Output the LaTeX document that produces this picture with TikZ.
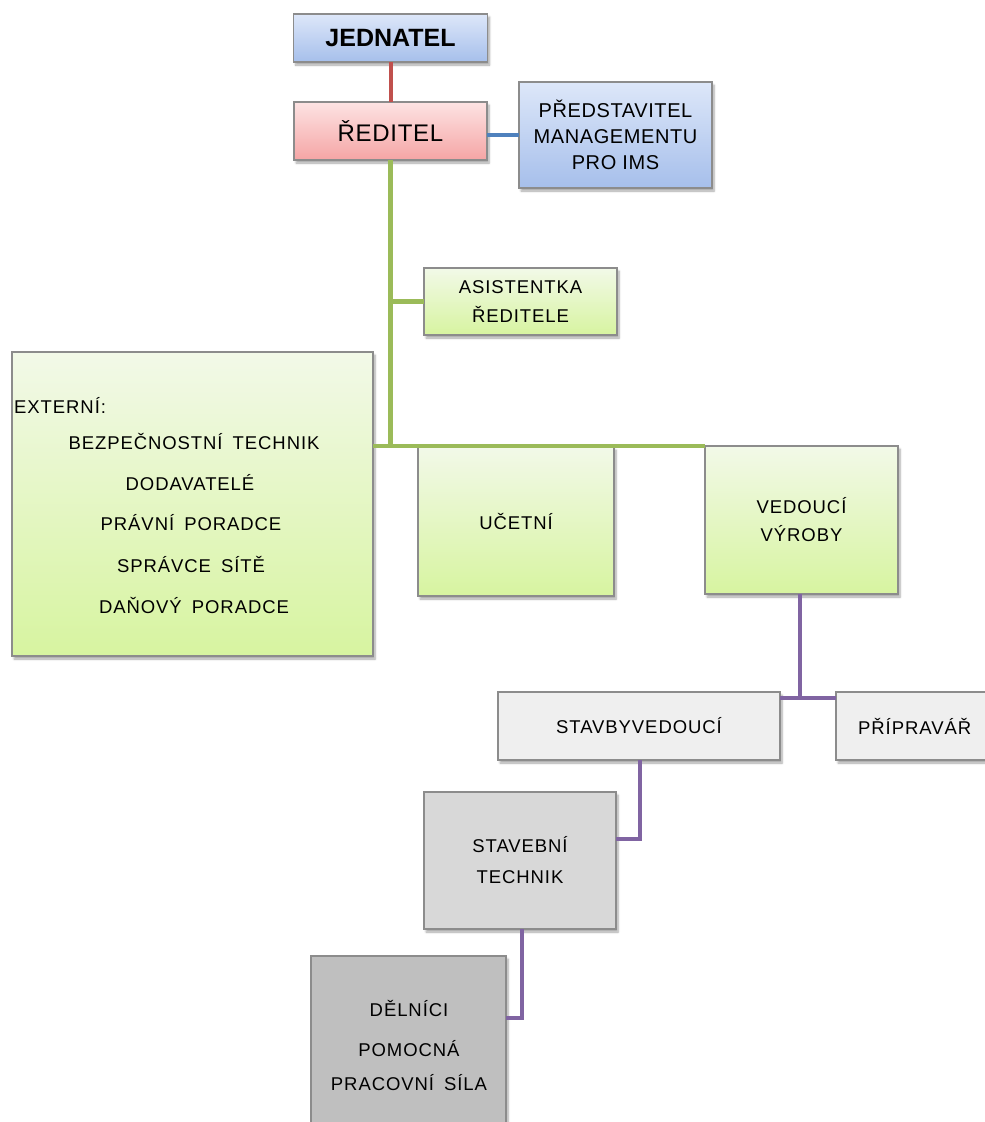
\documentclass[tikz,border=0pt]{standalone}
\usepackage{fontspec}
\setmainfont{Liberation Sans}
\newfontfamily\spaced[LetterSpace=5]{Liberation Sans}
\newfontfamily\spacedtight[LetterSpace=3]{Liberation Sans}
\usetikzlibrary{shadows.blur}

\definecolor{boxline}{HTML}{8C8C8C}
\definecolor{blueT}{HTML}{DDE7F9}
\definecolor{blueB}{HTML}{A6BFEB}
\definecolor{pinkT}{HTML}{FDE3E3}
\definecolor{pinkB}{HTML}{F5A5A5}
\definecolor{greenT}{HTML}{F2F9E8}
\definecolor{greenB}{HTML}{D7F4A0}
\definecolor{grayA}{HTML}{EFEFEF}
\definecolor{grayB}{HTML}{D8D8D8}
\definecolor{grayC}{HTML}{BFBFBF}
\definecolor{lnRed}{HTML}{C0504D}
\definecolor{lnBlue}{HTML}{4F81BD}
\definecolor{lnGreen}{HTML}{9BBB59}
\definecolor{lnPurple}{HTML}{8064A2}

\begin{document}
\begin{tikzpicture}[x=1pt,y=-1pt,
  box/.style={draw=boxline, line width=1.1pt, inner sep=0pt, outer sep=0pt,
    align=center, text=black,
    blur shadow={shadow blur steps=6, shadow xshift=2pt, shadow yshift=-3pt, shadow opacity=35}},
  bluebox/.style={box, top color=blueT, bottom color=blueB},
  pinkbox/.style={box, top color=pinkT, bottom color=pinkB},
  greenbox/.style={box, top color=greenT, bottom color=greenB},
  gbox1/.style={box, fill=grayA},
  gbox2/.style={box, fill=grayB},
  gbox3/.style={box, fill=grayC},
  lbl/.style={inner sep=0pt, align=center, text=black, font={\spaced\fontsize{18.5}{28}\selectfont}},
  conn/.style={line width=4.5pt},
]
\useasboundingbox (0,0) rectangle (985,1122);
\clip (0,0) rectangle (985,1122);

% top of the chart
\node[bluebox, minimum width=194pt, minimum height=48pt,
      font={\bfseries\fontsize{25}{28}\selectfont}] (jed) at (390.5,38) {JEDNATEL};
\node[pinkbox, minimum width=193pt, minimum height=58pt,
      font={\spacedtight\fontsize{24}{26}\selectfont}] (red) at (390.5,131) {ŘEDITEL};
\node[bluebox, minimum width=193pt, minimum height=106pt,
      font={\spacedtight\fontsize{20}{26}\selectfont}] (pred) at (615.5,135)
      {PŘEDSTAVITEL\\MANAGEMENTU\\PRO IMS};
\node[greenbox, minimum width=193pt, minimum height=67pt,
      font={\spaced\fontsize{18.5}{29}\selectfont}] (asist) at (520.5,301.5)
      {ASISTENTKA\\ŘEDITELE};

% external staff box
\node[greenbox, minimum width=361pt, minimum height=304pt] (ext) at (192.5,504) {};
\node[lbl, anchor=west] (ext0) at (14,405) {EXTERNÍ:};
\node[lbl] (ext1) at (194,441) {BEZPEČNOSTNÍ\hspace{4pt} TECHNIK};
\node[lbl] (ext2) at (190,483) {DODAVATELÉ};
\node[lbl] (ext3) at (191,523) {PRÁVNÍ\hspace{4pt} PORADCE};
\node[lbl] (ext4) at (191,564) {SPRÁVCE\hspace{4pt} SÍTĚ};
\node[lbl] (ext5) at (194,605) {DAŇOVÝ\hspace{4pt} PORADCE};

\node[greenbox, minimum width=196pt, minimum height=149pt,
      font={\spaced\fontsize{18.5}{28}\selectfont}] (ucet) at (516,521.5) {UČETNÍ};
\node[greenbox, minimum width=193pt, minimum height=148pt,
      font={\spaced\fontsize{18.5}{28}\selectfont}] (ved) at (801.5,520)
      {VEDOUCÍ\\VÝROBY};

% production branch
\node[gbox1, minimum width=282pt, minimum height=68pt,
      font={\spaced\fontsize{18.5}{28}\selectfont}] (stavby) at (639,726) {STAVBYVEDOUCÍ};
\node[gbox1, minimum width=170pt, minimum height=68pt] (prip) at (921,726) {};
\node[lbl, anchor=west] (priptext) at (858,726) {PŘÍPRAVÁŘ};
\node[gbox2, minimum width=192pt, minimum height=137pt,
      font={\spaced\fontsize{18.5}{31}\selectfont}] (stech) at (520,860.5)
      {STAVEBNÍ\\TECHNIK};
\node[gbox3, minimum width=195pt, minimum height=188pt] (deln) at (408.5,1050) {};
\node[lbl, font={\spaced\fontsize{18.5}{34}\selectfont}] (delntext) at (409,1045)
      {DĚLNÍCI\\[6pt]POMOCNÁ\\PRACOVNÍ\hspace{4pt} SÍLA};

% connectors
\coordinate (hub) at (390.5,446);
\coordinate (vh) at (800,698);
\coordinate (sj) at (640,839);
\coordinate (tj) at (522,1018);

\draw[conn, lnRed, line width=4pt] (jed.south) -- (red.north);
\draw[conn, lnBlue] (pred.west) -- (pred.west -| red.east);
\draw[conn, lnGreen] (red.south) -- (hub);
\draw[conn, lnGreen] (red.south |- asist.west) -- (asist.west);
\draw[conn, lnGreen] (ext.east |- hub) -- (hub) -- (ved.north west);
\draw[conn, lnPurple] (ved.south -| vh) -- (vh);
\draw[conn, lnPurple] (stavby.east |- vh) -- (prip.west |- vh);
\draw[conn, lnPurple] (stavby.south -| sj) -- (sj) -- (sj -| stech.east);
\draw[conn, lnPurple] (stech.south -| tj) -- (tj) -- (tj -| deln.east);
\end{tikzpicture}
\end{document}
